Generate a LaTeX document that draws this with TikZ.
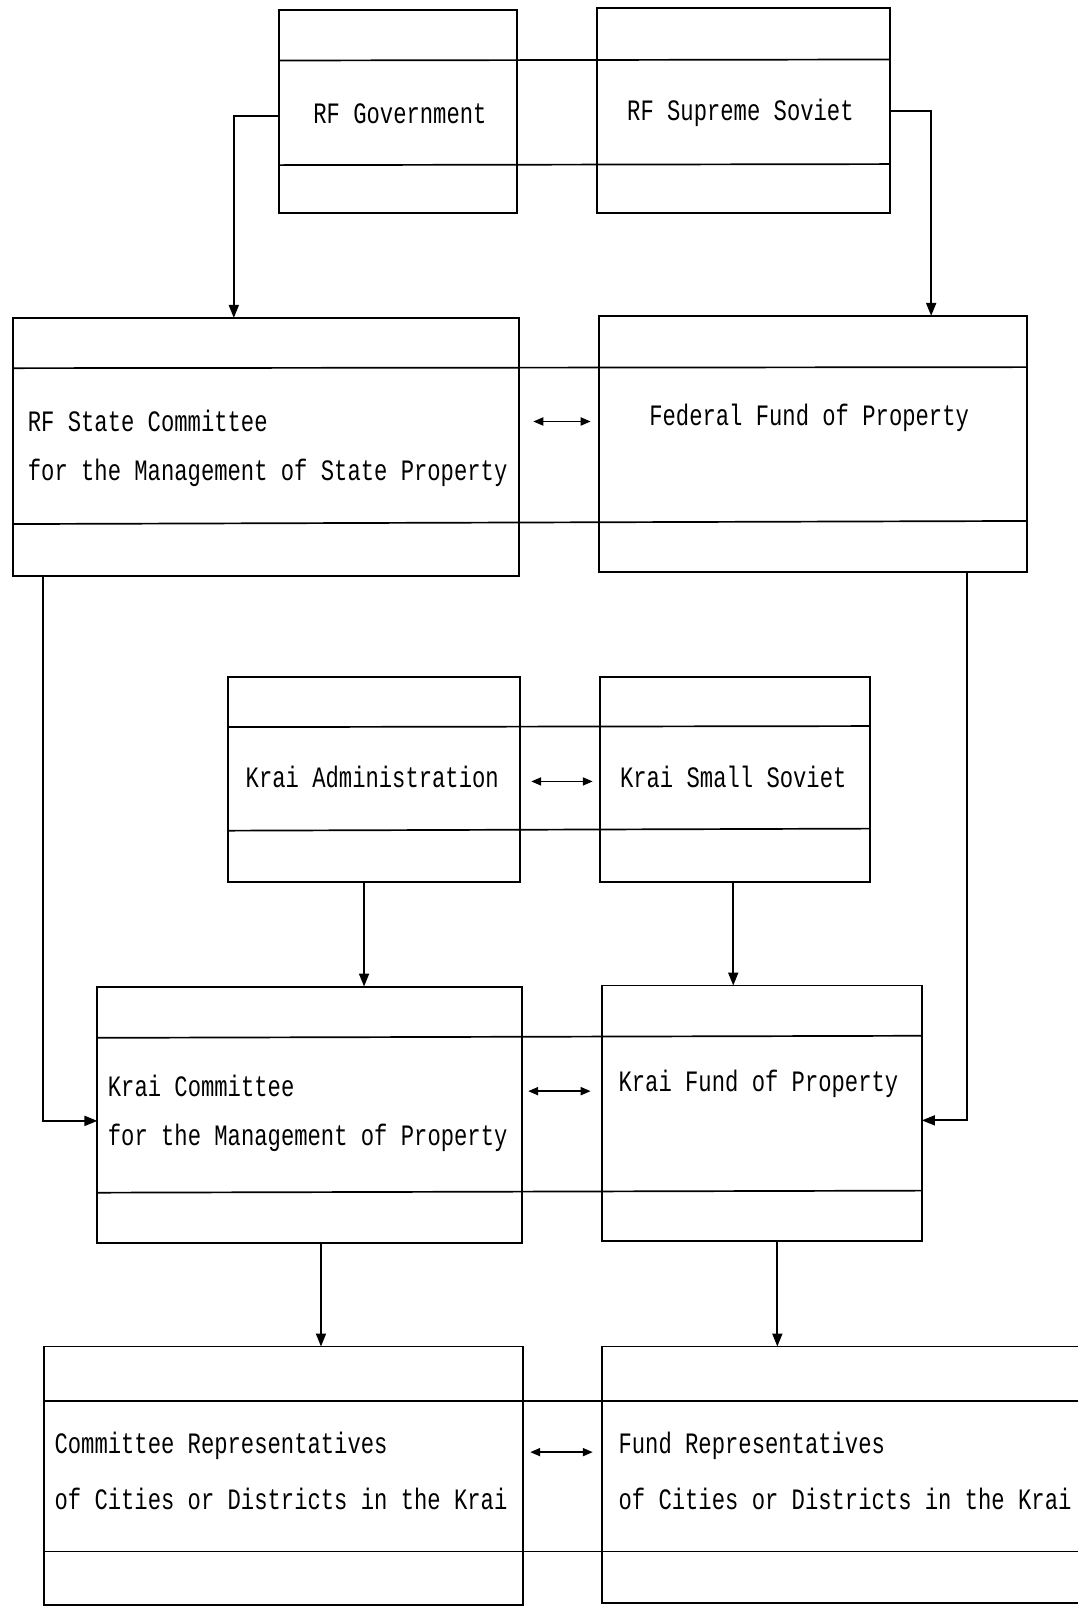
\documentclass[tikz,border=0pt]{standalone}
\usepackage{fontspec}
\newfontfamily\diagfont[FakeStretch=0.75]{Liberation Mono}
\usetikzlibrary{arrows.meta,calc}
\begin{document}
\begin{tikzpicture}[x=1.0257pt,y=-1.0257pt,
  box/.style={draw,line width=1.9pt,rectangle,inner sep=0pt,outer sep=0pt},
  band/.style={line width=1.7pt},
  lbl/.style={inner sep=0pt,font=\diagfont\fontsize{29.6}{32}\selectfont},
  arr/.style={line width=1.8pt,-{Triangle[length=13pt,width=10pt]}},
  darr/.style={line width=1.8pt,{Triangle[length=10pt,width=8pt]}-{Triangle[length=10pt,width=8pt]}}]
\useasboundingbox[fill=white] (0,0) rectangle (1051,1568);
% boxes
\node[box,minimum width={1.0257*232},minimum height={1.0257*198}] (gov) at (388,109) {};
\node[box,minimum width={1.0257*286},minimum height={1.0257*200}] (sov) at (725,108) {};
\node[box,minimum width={1.0257*493},minimum height={1.0257*252}] (sc) at (259.5,436) {};
\node[box,minimum width={1.0257*417},minimum height={1.0257*250}] (ff) at (792.5,433) {};
\node[box,minimum width={1.0257*285},minimum height={1.0257*200}] (ka) at (364.5,760) {};
\node[box,minimum width={1.0257*263},minimum height={1.0257*200}] (ks) at (716.5,760) {};
\node[box,minimum width={1.0257*414},minimum height={1.0257*250}] (kc) at (302,1087) {};
\node[box,minimum width={1.0257*312},minimum height={1.0257*249}] (kf) at (743,1085.5) {};
\node[box,minimum width={1.0257*467},minimum height={1.0257*252}] (cr) at (276.5,1439) {};
\node[box,minimum width={1.0257*483},minimum height={1.0257*250}] (fr) at (828.5,1438) {};
% bands
\draw[band] ($(gov.north west)+(0,49)$) -- ($(sov.north east)+(0,50)$);
\draw[band] ($(gov.north west)+(0,151)$) -- ($(sov.north east)+(0,152)$);
\draw[band] ($(sc.north west)+(0,49)$) -- ($(ff.north east)+(0,50)$);
\draw[band] ($(sc.north west)+(0,201)$) -- ($(ff.north east)+(0,200)$);
\draw[band] ($(ka.north west)+(0,49)$) -- ($(ks.north east)+(0,48)$);
\draw[band] ($(ka.north west)+(0,150)$) -- ($(ks.north east)+(0,148)$);
\draw[band] ($(kc.north west)+(0,50)$) -- ($(kf.north east)+(0,49)$);
\draw[band] ($(kc.north west)+(0,201)$) -- ($(kf.north east)+(0,200)$);
\draw[band] ($(cr.north west)+(0,53)$) -- ($(fr.north east)+(0,53)$);
\draw[band] ($(cr.north west)+(0,200)$) -- ($(fr.north east)+(0,200)$);
% labels
\node[lbl] (tgov) at (390,111) {RF Government};
\node[lbl] (tsov) at (722,110) {RF Supreme Soviet};
\node[lbl,anchor=west] (tsc1) at (27,410) {RF State Committee};
\node[lbl,anchor=west] (tsc2) at (27,461) {for the Management of State Property};
\node[lbl] (tff) at (789,407) {Federal Fund of Property};
\node[lbl] (tka) at (363,758) {Krai Administration};
\node[lbl] (tks) at (715,758) {Krai Small Soviet};
\node[lbl,anchor=west] (tkc1) at (105,1059) {Krai Committee};
\node[lbl,anchor=west] (tkc2) at (105,1110) {for the Management of Property};
\node[lbl,anchor=west] (tkf) at (603,1057) {Krai Fund of Property};
\node[lbl,anchor=west] (tcr1) at (53,1410) {Committee Representatives};
\node[lbl,anchor=west] (tcr2) at (53,1462) {of Cities or Districts in the Krai};
\node[lbl,anchor=west] (tfr1) at (603,1410) {Fund Representatives};
\node[lbl,anchor=west] (tfr2) at (603,1462) {of Cities or Districts in the Krai};
% connectors
\draw[arr] ($(gov.west)+(0,4)$) -| ($(sc.north west)+(215,0)$);
\draw[arr] (sov.east) -| ($(ff.north west)+(324,0)$);
\draw[arr] ($(sc.south west)+(29,0)$) |- ($(kc.west)+(0,6)$);
\draw[arr] ($(ff.south west)+(359,0)$) |- ($(kf.east)+(0,7)$);
\draw[arr] ($(ka.south west)+(133,0)$) -- ($(kc.north west)+(260,0)$);
\draw[arr] ($(ks.south west)+(130,0)$) -- ($(kf.north west)+(128,0)$);
\draw[arr] ($(kc.south west)+(218,0)$) -- ($(cr.north west)+(270,0)$);
\draw[arr] ($(kf.south west)+(171,0)$) -- ($(fr.north west)+(171,0)$);
\draw[darr] ($(sc.east)+(14,-25)$) -- ($(ff.west)+(-8,-22)$);
\draw[darr] ($(ka.east)+(11,2)$) -- ($(ks.west)+(-7,2)$);
\draw[darr] ($(kc.east)+(6,-23)$) -- ($(kf.west)+(-11,-21.5)$);
\draw[darr] ($(cr.east)+(7,-23)$) -- ($(fr.west)+(-9,-22)$);
\end{tikzpicture}
\end{document}
